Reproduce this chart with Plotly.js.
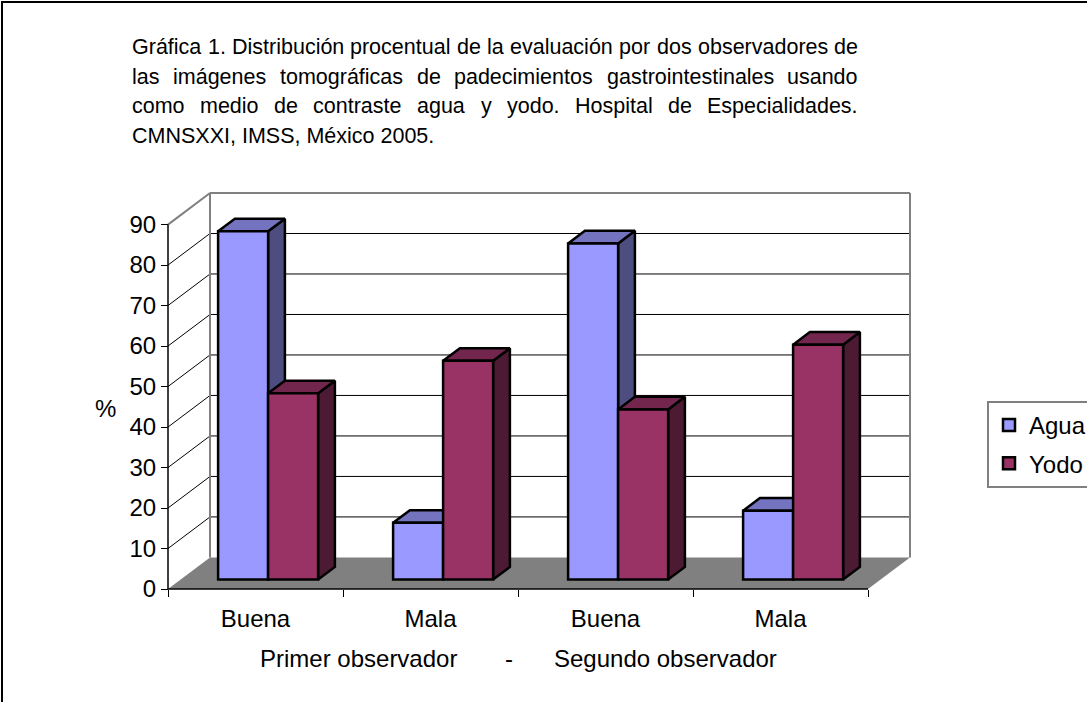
<!DOCTYPE html>
<html>
<head>
<meta charset="utf-8">
<script src="https://cdn.plot.ly/plotly-3.0.1.min.js"></script>
<style>
html, body { margin: 0; padding: 0; background: #ffffff; }
#chart { width: 1087px; height: 702px; }
</style>
</head>
<body>
<div id="chart"></div>
<script>
// ---------------- data ----------------
const categories = ["Buena", "Mala", "Buena", "Mala"];
const seriesNames = ["Agua", "Yodo"];
const aguaValues = [86, 14, 83, 17];
const yodoValues = [46, 54, 42, 58];
const yTickValues = [0, 10, 20, 30, 40, 50, 60, 70, 80, 90];
const titleLines = [
  "Gráfica 1. Distribución procentual de la evaluación por dos observadores de",
  "las imágenes tomográficas de padecimientos gastrointestinales usando",
  "como medio de contraste agua y yodo. Hospital de Especialidades.",
  "CMNSXXI, IMSS, México 2005."
];
const xTitleParts = ["Primer observador", "-", "Segundo observador"];
const yTitleText = "%";

// ---------------- layout constants ----------------
const FONT = 'Arial, "Liberation Sans", sans-serif';
const FS = 24;
const ML = 166, MT = 191, PW = 746, PH = 400, W = 1087, H = 702;
const DX = 0.24, DY = 7.8;          // 3-D depth offset (category units, value units)
const D0 = 0.3, D1 = 0.7;           // bar depth span inside the floor
const BW = 2 / 7, GAP0 = 1.5 / 7;   // bar width and leading gap inside a category
const padX = 2 / 175, padY = 2 / 4.05;
const nCat = categories.length;
const yMaxTick = yTickValues[yTickValues.length - 1];
const xRange = [-padX, nCat + DX + padX];
const yRange = [-padY, yMaxTick + DY + padY];

const COLORS = {
  Agua: { front: "#9999FF", top: "#7373BF", side: "#4D4D80" },
  Yodo: { front: "#993366", top: "#73264D", side: "#4D1A33" }
};

function px2x(px) { return (px - ML) / PW; }
function py2y(py) { return (MT + PH - py) / PH; }

// ---------------- 3-D faces computed from the data ----------------
const seriesData = [aguaValues, yodoValues];
const faceTraces = [];
const barTraces = [];
const ddx = (D1 - D0) * DX, ddy = (D1 - D0) * DY;
const base = D0 * DY;

seriesData.forEach(function (vals, s) {
  const name = seriesNames[s];
  const col = COLORS[name];
  const sx = [], sy = [], tx = [], ty = [];
  vals.forEach(function (v, i) {
    const left = i + GAP0 + s * BW + D0 * DX;
    const right = left + BW;
    const top = base + v;
    // side face
    sx.push(right, right, right + ddx, right + ddx, right, null);
    sy.push(base, top, top + ddy, base + ddy, base, null);
    // top face
    tx.push(left, right, right + ddx, left + ddx, left, null);
    ty.push(top, top, top + ddy, top + ddy, top, null);
  });
  faceTraces.push({
    type: "scatter", mode: "lines", x: sx, y: sy, fill: "toself",
    fillcolor: col.side, line: { color: "#000000", width: 2.5 },
    hoverinfo: "skip", showlegend: false, xaxis: "x", yaxis: "y"
  });
  faceTraces.push({
    type: "scatter", mode: "lines", x: tx, y: ty, fill: "toself",
    fillcolor: col.top, line: { color: "#000000", width: 2.5 },
    hoverinfo: "skip", showlegend: false, xaxis: "x", yaxis: "y"
  });
  barTraces.push({
    type: "bar", name: name, legendgroup: name,
    x: categories.map(function (c, i) { return i + 0.5; }),
    y: vals,
    base: base,
    width: BW,
    offset: GAP0 + s * BW - 0.5 + D0 * DX,
    marker: { color: col.front, line: { color: "#000000", width: 2.5 } },
    hoverinfo: "skip",
    xaxis: "x2", yaxis: "y2"
  });
});

// ---------------- walls, floor, axes lines ----------------
const shapes = [];
// floor
shapes.push({
  type: "path", xref: "x", yref: "y", layer: "below",
  path: "M 0,0 L " + nCat + ",0 L " + (nCat + DX) + "," + DY + " L " + DX + "," + DY + " Z",
  fillcolor: "#808080", line: { width: 0 }
});
// gridlines on back wall and left wall
yTickValues.forEach(function (v) {
  if (v === 0 || v === yMaxTick) return;
  shapes.push({ type: "line", xref: "x", yref: "y", layer: "below",
    x0: DX, y0: v + DY, x1: nCat + DX, y1: v + DY, line: { color: "#000000", width: 1 } });
  shapes.push({ type: "line", xref: "x", yref: "y", layer: "below",
    x0: 0, y0: v, x1: DX, y1: v + DY, line: { color: "#000000", width: 1 } });
});
// wall borders (gray)
const gray = { color: "#808080", width: 2 };
shapes.push({ type: "line", xref: "x", yref: "y", layer: "below", x0: DX, y0: yMaxTick + DY, x1: nCat + DX, y1: yMaxTick + DY, line: gray });
shapes.push({ type: "line", xref: "x", yref: "y", layer: "below", x0: nCat + DX, y0: DY, x1: nCat + DX, y1: yMaxTick + DY, line: gray });
shapes.push({ type: "line", xref: "x", yref: "y", layer: "below", x0: DX, y0: DY, x1: DX, y1: yMaxTick + DY, line: gray });
shapes.push({ type: "line", xref: "x", yref: "y", layer: "below", x0: 0, y0: yMaxTick, x1: DX, y1: yMaxTick + DY, line: gray });
// front axis lines
shapes.push({ type: "line", xref: "x", yref: "y", layer: "below", x0: 0, y0: 0, x1: 0, y1: yMaxTick, line: { color: "#000000", width: 1.5 } });
shapes.push({ type: "line", xref: "x", yref: "y", layer: "below", x0: 0, y0: 0, x1: nCat, y1: 0, line: { color: "#000000", width: 1.5 } });
// outer frame of the figure
shapes.push({ type: "rect", xref: "paper", yref: "paper", layer: "above",
  x0: px2x(2), y0: py2y(2), x1: px2x(W + 20), y1: py2y(H + 20),
  line: { color: "#000000", width: 2 }, fillcolor: "rgba(0,0,0,0)" });

// ---------------- annotations ----------------
const annotations = [];
// title: justified lines
const TITLE_SIZE = 21.5, TITLE_LEFT = 131, TITLE_RIGHT = 857, TITLE_Y0 = 47, TITLE_LH = 29.5;
const cv = document.createElement("canvas").getContext("2d");
cv.font = TITLE_SIZE + "px Arial";
titleLines.forEach(function (line, li) {
  const yc = TITLE_Y0 + li * TITLE_LH;
  const words = line.split(" ");
  if (li === titleLines.length - 1) {
    annotations.push({ xref: "paper", yref: "paper", x: px2x(TITLE_LEFT), y: py2y(yc),
      xanchor: "left", yanchor: "middle", showarrow: false, text: line, borderpad: 0,
      font: { family: FONT, size: TITLE_SIZE, color: "#000000" } });
    return;
  }
  const widths = words.map(function (w) { return cv.measureText(w).width; });
  const total = widths.reduce(function (a, b) { return a + b; }, 0);
  const gap = (TITLE_RIGHT - TITLE_LEFT - total) / (words.length - 1);
  let xp = TITLE_LEFT;
  words.forEach(function (w, wi) {
    annotations.push({ xref: "paper", yref: "paper", x: px2x(xp), y: py2y(yc),
      xanchor: "left", yanchor: "middle", showarrow: false, text: w, borderpad: 0,
      font: { family: FONT, size: TITLE_SIZE, color: "#000000" } });
    xp += widths[wi] + gap;
  });
});
// y-axis title
annotations.push({ xref: "paper", yref: "paper", x: px2x(105), y: py2y(408),
  xanchor: "center", yanchor: "middle", showarrow: false, text: yTitleText,
  font: { family: FONT, size: FS, color: "#000000" } });
// x-axis title (three parts)
const xTitleCenters = [358, 509, 665];
xTitleParts.forEach(function (t, i) {
  annotations.push({ xref: "paper", yref: "paper", x: px2x(xTitleCenters[i]), y: py2y(658),
    xanchor: "center", yanchor: "middle", showarrow: false, text: t,
    font: { family: FONT, size: FS, color: "#000000" } });
});

// ---------------- layout ----------------
const layout = {
  width: W, height: H,
  margin: { l: ML, r: W - ML - PW, t: MT, b: H - MT - PH, pad: 0, autoexpand: false },
  paper_bgcolor: "#ffffff", plot_bgcolor: "rgba(0,0,0,0)",
  font: { family: FONT, size: FS, color: "#000000" },
  showlegend: true,
  barmode: "overlay",
  xaxis: {
    range: xRange, showgrid: false, zeroline: false, showline: false,
    anchor: "free", position: 2 / PH,
    tickmode: "array",
    tickvals: categories.map(function (c, i) { return i + 0.5; }),
    ticktext: categories,
    ticks: "outside", ticklen: 8, tickcolor: "rgba(0,0,0,0)",
    tickfont: { family: FONT, size: FS, color: "#000000" },
    minor: { tickmode: "array", tickvals: categories.map(function (c, i) { return i; }).concat([nCat]),
      ticks: "outside", ticklen: 7, tickwidth: 1, tickcolor: "#000000", showgrid: false },
    fixedrange: true
  },
  yaxis: {
    range: yRange, showgrid: false, zeroline: false, showline: false,
    anchor: "free", position: 2 / PW,
    tickmode: "array", tickvals: yTickValues,
    ticks: "outside", ticklen: 7, tickwidth: 1, tickcolor: "#000000",
    tickfont: { family: FONT, size: FS, color: "#000000" },
    fixedrange: true
  },
  xaxis2: { range: xRange, overlaying: "x", visible: false, fixedrange: true },
  yaxis2: { range: yRange, overlaying: "y", visible: false, fixedrange: true },
  legend: {
    x: px2x(987), y: py2y(401), xanchor: "left", yanchor: "top",
    bgcolor: "#ffffff", bordercolor: "#808080", borderwidth: 2,
    font: { family: FONT, size: FS, color: "#000000" },
    traceorder: "grouped", tracegroupgap: 4, itemwidth: 30
  },
  shapes: shapes,
  annotations: annotations
};

Plotly.newPlot("chart", faceTraces.concat(barTraces), layout, { displayModeBar: false, staticPlot: true });
</script>
</body>
</html>
